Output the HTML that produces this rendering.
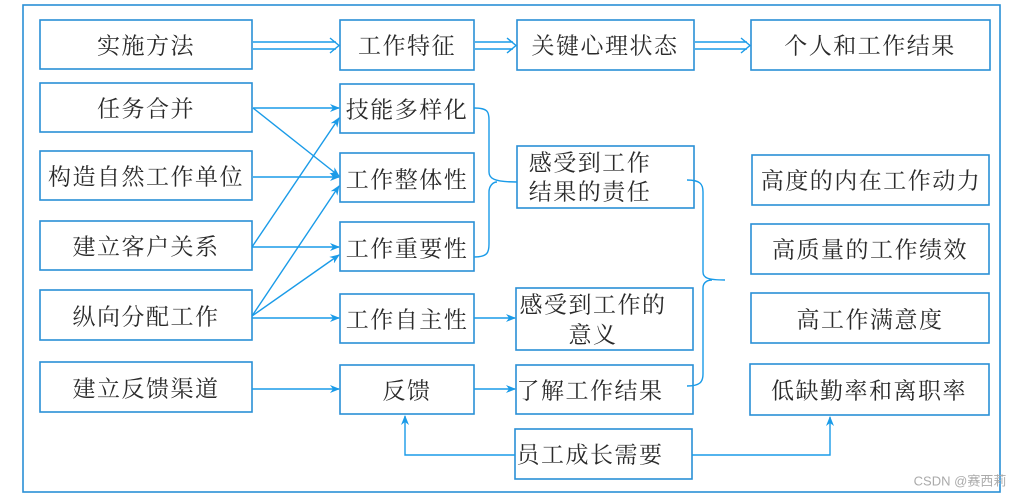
<!DOCTYPE html>
<html><head><meta charset="utf-8"><style>
html,body{margin:0;padding:0;background:#fff;}
svg{display:block;}
text{font-family:"Liberation Serif","Noto Serif CJK SC",serif;font-size:23px;fill:#2a2a2a;text-anchor:middle;dominant-baseline:central;letter-spacing:1.5px;}
.b{fill:#fff;stroke:#2a8fd6;stroke-width:1.6;}
.l{stroke:#1a9be8;stroke-width:1.4;fill:none;}
</style></head><body>
<svg width="1025" height="498" viewBox="0 0 1025 498">
<defs><marker id="a" markerWidth="10" markerHeight="8" refX="9" refY="4" orient="auto" markerUnits="userSpaceOnUse"><path d="M0,0 L10,4 L0,8 L3,4Z" fill="#1a9be8"/></marker></defs>
<rect x="23" y="5" width="977" height="487" fill="none" stroke="#2a8fd6" stroke-width="1.6"/>
<rect class="b" x="40" y="20" width="212" height="49"/><text x="146" y="46">实施方法</text>
<rect class="b" x="40" y="83" width="212" height="49"/><text x="146" y="109">任务合并</text>
<rect class="b" x="40" y="151" width="212" height="49"/><text x="146" y="177">构造自然工作单位</text>
<rect class="b" x="40" y="221" width="212" height="49"/><text x="146" y="247">建立客户关系</text>
<rect class="b" x="40" y="290" width="212" height="50"/><text x="146" y="317">纵向分配工作</text>
<rect class="b" x="40" y="362" width="212" height="50"/><text x="146" y="389">建立反馈渠道</text>
<rect class="b" x="340" y="20" width="134" height="50"/><text x="407" y="46">工作特征</text>
<rect class="b" x="340" y="84" width="134" height="49"/><text x="407" y="110">技能多样化</text>
<rect class="b" x="340" y="153" width="134" height="49"/><text x="407" y="180">工作整体性</text>
<rect class="b" x="340" y="222" width="134" height="49"/><text x="407" y="249">工作重要性</text>
<rect class="b" x="340" y="294" width="134" height="49"/><text x="407" y="320">工作自主性</text>
<rect class="b" x="340" y="365" width="134" height="49"/><text x="407" y="391">反馈</text>
<rect class="b" x="517" y="20" width="177" height="50"/><text x="605" y="46">关键心理状态</text>
<rect class="b" x="517" y="146" width="177" height="62"/><text x="590" y="163">感受到工作</text><text x="590" y="192">结果的责任</text>
<rect class="b" x="516" y="288" width="177" height="62"/><text x="593" y="305">感受到工作的</text><text x="593" y="335">意义</text>
<rect class="b" x="516" y="365" width="177" height="49"/><text x="590" y="391">了解工作结果</text>
<rect class="b" x="515" y="429" width="177" height="50"/><text x="590" y="455">员工成长需要</text>
<rect class="b" x="751" y="20" width="239" height="50"/><text x="870" y="46">个人和工作结果</text>
<rect class="b" x="752" y="155" width="237" height="50"/><text x="871" y="181">高度的内在工作动力</text>
<rect class="b" x="751" y="224" width="238" height="50"/><text x="870" y="250">高质量的工作绩效</text>
<rect class="b" x="751" y="293" width="238" height="50"/><text x="870" y="320">高工作满意度</text>
<rect class="b" x="750" y="364" width="239" height="51"/><text x="869" y="391">低缺勤率和离职率</text>
<g class="l">
<path d="M253,42 H336 M253,49 H336 M330,38 L339,45.5 L330,53"/>
<path d="M475,42 H513 M475,49 H513 M507,38 L516,45.5 L507,53"/>
<path d="M695,42 H747 M695,49 H747 M741,38 L750,45.5 L741,53"/>
</g>
<g class="l" marker-end="url(#a)">
<path d="M253,108 L339,108"/>
<path d="M253,108 L339,176"/>
<path d="M253,177 L339,177"/>
<path d="M252,247 L339,118"/>
<path d="M252,247 L339,247"/>
<path d="M252,316 L339,186"/>
<path d="M252,316 L339,255"/>
<path d="M252,318 L339,318"/>
<path d="M252,389 L339,389"/>
<path d="M474,318 L515,318"/>
<path d="M474,389 L515,389"/>
<path d="M515,455 H405 V416"/>
<path d="M692,455 H830 V417"/>
</g>
<g class="l">
<path d="M474,108 C488,108 489,112 489,120 V172 C489,178 493,182 517,182"/>
<path d="M474,257 C488,257 489,252 489,244 V192 C489,186 493,182 497,182"/>
<path d="M687,180 C700,180 703,184 703,192 V272 C703,278 708,280 725,280"/>
<path d="M687,386 C700,386 703,382 703,374 V288 C703,282 708,280 712,280"/>
</g>
<text x="960" y="481" style="font-size:13px;fill:#aaa;font-family:'Liberation Sans','Noto Sans CJK SC',sans-serif;letter-spacing:0">CSDN @赛西莉</text>
</svg>
</body></html>
